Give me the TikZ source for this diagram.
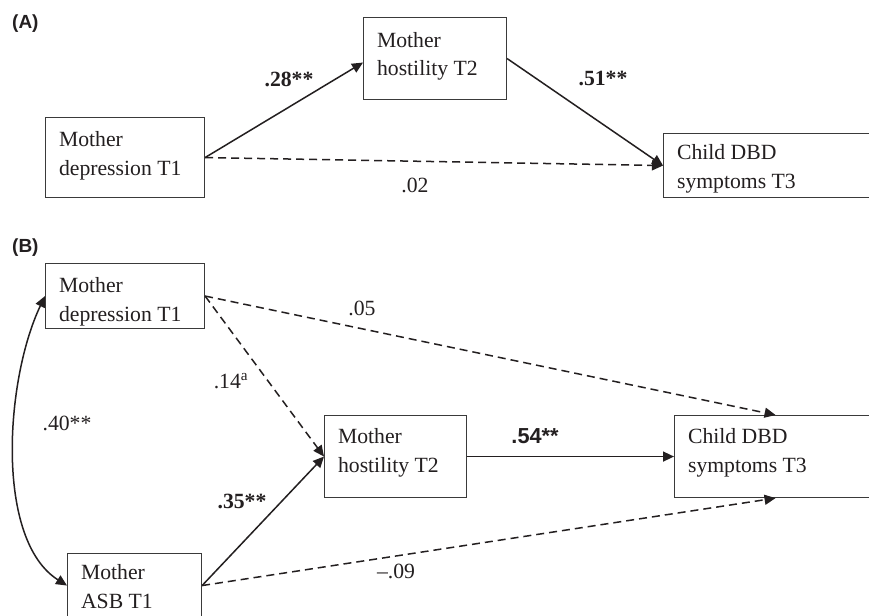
\documentclass[tikz,border=0pt]{standalone}
\usepackage{fontspec}
\setmainfont{Liberation Serif}
\newfontfamily\labsans{Liberation Sans}
\usetikzlibrary{arrows.meta,calc}
\definecolor{ink}{HTML}{231F20}
\definecolor{frame}{HTML}{3A3A3A}
\newcommand\bxt[4]{\raisebox{#2}[\height][\depth]{\makebox[#1][l]{\begin{tabular}{@{}l@{}}#3\\#4\end{tabular}}}}
\tikzset{
  box/.style={draw=frame, line width=1.1pt, rectangle, inner ysep=0pt, inner xsep=13.5pt,
    anchor=north west, text=ink, font=\fontsize{21.7}{28.5}\selectfont},
  lab/.style={anchor=base, text=ink, inner sep=0pt, font=\fontsize{21.7}{26}\selectfont},
  panel/.style={anchor=base west, text=ink, inner sep=0pt, font=\labsans\bfseries\fontsize{19}{22}\selectfont},
  path/.style={draw=ink, line width=1.5pt, -{Triangle[length=11pt,width=10pt]}},
  dpath/.style={path, dash pattern=on 8pt off 5pt},
}
\begin{document}
\begin{tikzpicture}[x=1pt,y=-1pt]
\useasboundingbox (0,0) rectangle (869,615);
\clip (0,0) rectangle (869,615);
\fill[white] (0,0) rectangle (869,615);

% Panel A
\node[panel] (labA) at (12,29) {(A)};
\node[box, minimum width=159pt, minimum height=80pt] (A1) at (45,117) {\bxt{132pt}{2.5pt}{Mother}{depression T1}};
\node[box, minimum width=143pt, minimum height=82pt] (A2) at (363,17) {\bxt{116pt}{2.5pt}{Mother}{hostility T2}};
\node[box, minimum width=213pt, minimum height=64pt] (A3) at (663,133) {\bxt{186pt}{-2.5pt}{Child DBD}{symptoms T3}};

\draw[path] (A1.east) -- ($(A2.west)+(0,4)$);
\draw[path] (A2.east) -- (A3.west);
\draw[dpath] (A1.east) -- (A3.west);

\node[lab] (a28) at (289,87) {\textbf{.28**}};
\node[lab] (a51) at (603,86) {\textbf{.51**}};
\node[lab] (a02) at (415,192) {.02};

% Panel B
\node[panel] (labB) at (12,252) {(B)};
\node[box, minimum width=159pt, minimum height=65pt] (B1) at (45,263) {\bxt{132pt}{-5pt}{Mother}{depression T1}};
\node[box, minimum width=142pt, minimum height=82pt] (B2) at (324,415) {\bxt{115pt}{4.5pt}{Mother}{hostility T2}};
\node[box, minimum width=202pt, minimum height=82pt] (B3) at (674,415) {\bxt{175pt}{4.5pt}{Child DBD}{symptoms T3}};
\node[box, minimum width=134pt, minimum height=64pt] (B4) at (67,553) {\bxt{107pt}{-2.5pt}{Mother}{ASB T1}};

\draw[dpath] (B1.east) -- (B2.west);
\draw[dpath] (B1.east) -- (B3.north);
\draw[path] (B2.east) -- (B3.west);
\draw[path] (B4.east) -- (B2.west);
\draw[dpath] (B4.east) -- (B3.south);
\draw[draw=ink, line width=1.5pt, {Triangle[length=11pt,width=10pt]}-{Triangle[length=11pt,width=10pt]}]
  (B1.west) .. controls (5,380) and (-5,540) .. (B4.west);

\node[lab] (b05) at (362,315) {.05};
\node[lab] (b14) at (231,388) {.14\textsuperscript{a}};
\node[lab] (b40) at (67,430) {.40**};
\node[lab] (b35) at (242,508) {\textbf{.35**}};
\node[lab] (b54) at (535,443) {\labsans\bfseries .54**};
\node[lab] (b09) at (396,578) {–.09};
\end{tikzpicture}
\end{document}
